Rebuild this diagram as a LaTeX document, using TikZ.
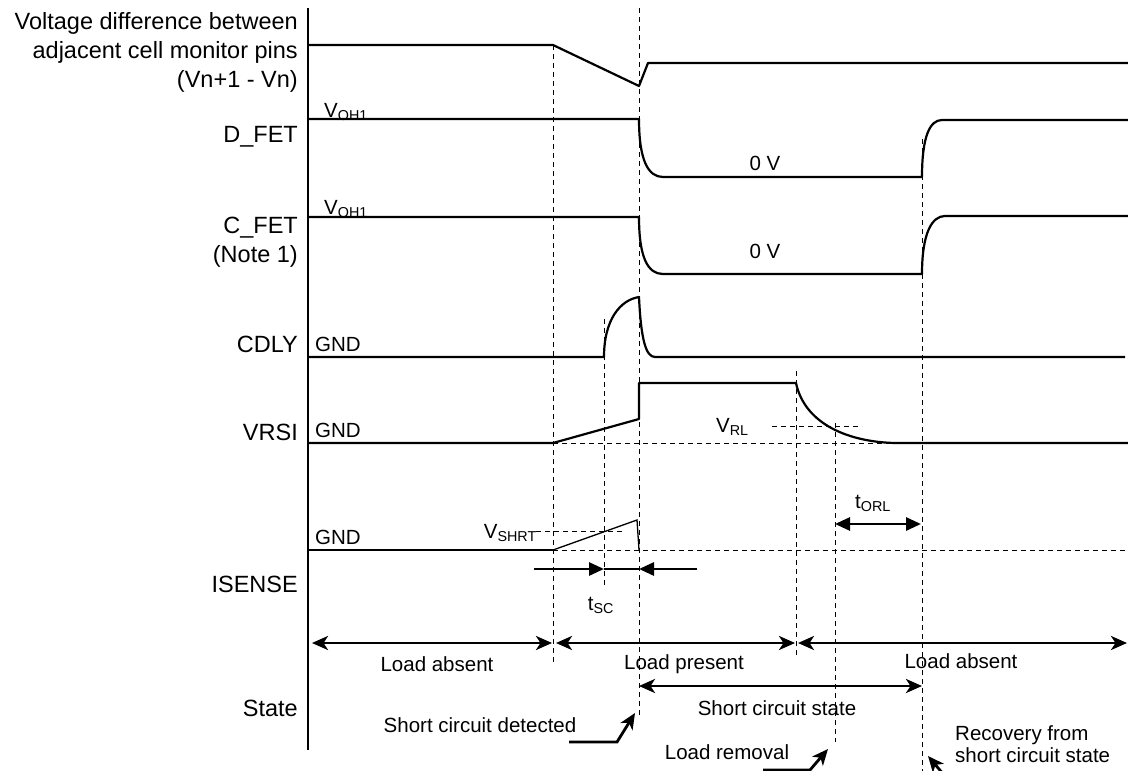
\documentclass[tikz,border=0pt]{standalone}
\usepackage{fontspec}
\setmainfont{Liberation Sans}
\usetikzlibrary{arrows.meta}
\begin{document}
\begin{tikzpicture}[
       x=1pt, y=-1pt,
       wave/.style={
         line width=2.2pt,
         line join=round
       },
       thinwave/.style={
         line width=1.3pt
       },
       guide/.style={
         line width=1pt,
         dash pattern=on 5pt off 4pt
       },
       signame/.style={
         anchor=east,
         inner sep=0pt,
         font=\fontsize{23.5}{29}\selectfont
       },
       level/.style={
         anchor=base west,
         inner sep=0pt,
         font=\fontsize{20.5}{24}\selectfont
       },
       note/.style={
         inner sep=0pt,
         font=\fontsize{20.5}{22}\selectfont
       },
       span/.style={
         line width=2.8pt,
         {Stealth[length=16pt,width=14pt,inset=4.5pt]}-{Stealth[length=16pt,width=14pt,inset=4.5pt]}
       },
       pointer/.style={
         line width=2.8pt,
         -{Stealth[length=16pt,width=14pt,inset=4.5pt]}
       },
       gap/.style={
         line width=2.8pt,
         -{Triangle[length=15pt,width=13pt]}
       }
     ]

       \useasboundingbox (0,0) rectangle (1128,771);

       \node (vdiff) at (298,52) [signame, align=right]{Voltage difference between\\adjacent cell monitor pins\\(Vn+1 - Vn)};
       \node (dfet) at (298,137) [signame]{D\_FET};
       \node (cfet) at (298,242) [signame, align=right]{C\_FET\\(Note 1)};
       \node (cdly) at (298,344) [signame]{CDLY};
       \node (vrsi) at (298,432) [signame]{VRSI};
       \node (isense) at (298,584) [signame]{ISENSE};
       \node (state) at (298,708) [signame]{State};

       \draw[line width=1.8pt] (308,8) -- (308,750);

       \draw[guide] (553,45) -- (553,662);
       \draw[guide] (639,8) -- (639,715);
       \draw[guide] (604,319) -- (604,587);
       \draw[guide] (796,371) -- (796,655);
       \draw[guide] (835,423) -- (835,742);
       \draw[guide] (922,139) -- (922,771);

       \draw[wave] (308,45) -- (553,45) -- (639,86) -- (648,63) -- (1128,63);

       \node (dhigh) at (324,117) [level]{V\textsubscript{OH1}};
       \draw[wave] (308,119) -- (639,119) .. controls (639,160) and (648,177) .. (663,177)
         -- (922,177) .. controls (922,136) and (930,120) .. (942,120) -- (1128,120);
       \node (dzero) at (765,163) [note]{0 V};

       \node (chigh) at (324,214) [level]{V\textsubscript{OH1}};
       \draw[wave] (308,217) -- (639,217) .. controls (639,258) and (648,274) .. (663,274)
         -- (922,274) .. controls (922,233) and (932,216) .. (945,216) -- (1128,216);
       \node (czero) at (765,251) [note]{0 V};

       \node (cgnd) at (315,351) [level]{GND};
       \draw[wave] (308,357) -- (604,357) .. controls (604,320) and (620,300) .. (639,297)
         .. controls (641,340) and (646,357) .. (655,357) -- (1125,357);

       \node (vgnd) at (315,437) [level]{GND};
       \draw[guide] (553,443) -- (1128,443);
       \draw[wave] (308,443) -- (553,443) -- (639,419) -- (639,383) -- (796,383)
         .. controls (805,425) and (850,442) .. (895,443) -- (1128,443);
       \draw[guide] (772,426) -- (862,426);
       \node (vrl) at (716,432) [level]{V\textsubscript{RL}};

       \node (igns) at (315,544) [level]{GND};
       \draw[wave] (308,550) -- (553,550);
       \draw[guide] (553,550) -- (1128,550);
       \draw[thinwave] (553,550) -- (637,520) -- (639,550);
       \draw[guide] (536,531) -- (625,531);
       \node (vshrt) at (537,538) [level, anchor=base east]{V\textsubscript{SHRT}};

       \coordinate (sca) at (534,569);
       \coordinate (scb) at (604,569);
       \coordinate (scc) at (639,569);
       \coordinate (scd) at (697,569);
       \draw[gap] (sca) -- (scb);
       \draw[thinwave] (scb) -- (scc);
       \draw[gap] (scd) -- (scc);
       \node (tsc) at (601,605) [note]{t\textsubscript{SC}};

       \coordinate (orla) at (835,524);
       \coordinate (orlb) at (921,524);
       \draw[gap, {Triangle[length=15pt,width=13pt]}-{Triangle[length=15pt,width=13pt]}] (orla) -- (orlb);
       \node (torl) at (873,503) [note]{t\textsubscript{ORL}};

       \coordinate (s0) at (312,643);
       \coordinate (s1) at (552,643);
       \coordinate (s2) at (556,643);
       \coordinate (s3) at (795,643);
       \coordinate (s4) at (798,643);
       \coordinate (s5) at (1127,643);
       \draw[span] (s0) -- (s1);
       \draw[span] (s2) -- (s3);
       \draw[span] (s4) -- (s5);
       \node (absent1) at (437,664) [note]{Load absent};
       \node (present) at (684,664) [note]{Load present};
       \node (absent2) at (961,661) [note]{Load absent};

       \coordinate (sc0) at (639,686);
       \coordinate (sc1) at (922,686);
       \draw[span] (sc0) -- (sc1);
       \node (scstate) at (777,708) [note]{Short circuit state};

       \node (detect) at (480,725) [note]{Short circuit detected};
       \coordinate (deta) at (569,742);
       \coordinate (detb) at (617,742);
       \coordinate (detc) at (635,713);
       \draw[pointer] (deta) -- (detb) -- (detc);

       \node (removal) at (727,752) [note]{Load removal};
       \coordinate (rema) at (763,770);
       \coordinate (remb) at (810,770);
       \coordinate (remc) at (828,749);
       \draw[pointer] (rema) -- (remb) -- (remc);

       \node (recover) at (955,744) [note, anchor=west, align=left]{Recovery from\\short circuit state};
       \coordinate (reca) at (944,775);
       \coordinate (recb) at (928,756);
       \draw[pointer] (reca) -- (recb);

\end{tikzpicture}
\end{document}
